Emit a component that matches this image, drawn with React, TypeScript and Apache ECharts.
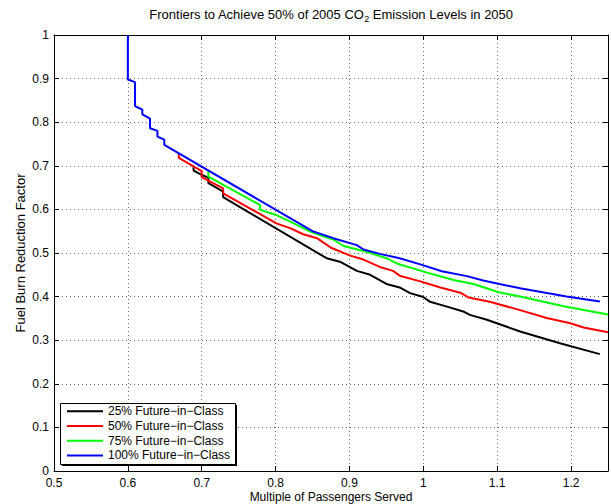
import React, { useEffect, useRef } from "react";
import * as echarts from "echarts";

const titleText = "Frontiers to Achieve 50% of 2005 CO{sub|2} Emission Levels in 2050";
const xAxisName = "Multiple of Passengers Served";
const yAxisName = "Fuel Burn Reduction Factor";

const seriesNames = [
  "25% Future−in−Class",
  "50% Future−in−Class",
  "75% Future−in−Class",
  "100% Future−in−Class",
];
const seriesColors = ["#000000", "#ff0000", "#00ff00", "#0000ff"];

const xMin = 0.5;
const xMax = 1.25;
const xStep = 0.1;
const yMin = 0;
const yMax = 1;
const yStep = 0.1;

const frontier25: [number, number][] = [
  [0.689, 0.699], [0.689, 0.689], [0.7, 0.679], [0.709, 0.673], [0.709, 0.66],
  [0.729, 0.641], [0.729, 0.628], [0.869, 0.488], [0.887, 0.48], [0.91, 0.459],
  [0.928, 0.45], [0.95, 0.429], [0.968, 0.421], [0.982, 0.408], [1.0, 0.399],
  [1.009, 0.388], [1.032, 0.377], [1.054, 0.366], [1.063, 0.358], [1.086, 0.347],
  [1.131, 0.32], [1.185, 0.293], [1.239, 0.268],
];

const frontier50: [number, number][] = [
  [0.669, 0.727], [0.669, 0.718], [0.7, 0.688], [0.7, 0.674], [0.729, 0.648],
  [0.729, 0.637], [0.801, 0.568], [0.8195, 0.557], [0.8375, 0.543], [0.856, 0.534],
  [0.875, 0.512], [0.901, 0.494], [0.919, 0.485], [0.941, 0.468], [0.959, 0.459],
  [0.968, 0.448], [0.996, 0.435], [1.023, 0.421], [1.05, 0.409], [1.061, 0.398],
  [1.09, 0.388], [1.131, 0.369], [1.167, 0.351], [1.199, 0.339], [1.217, 0.329],
  [1.25, 0.318],
];

const frontier75: [number, number][] = [
  [0.709, 0.689], [0.709, 0.675], [0.779, 0.61], [0.779, 0.599], [0.801, 0.587],
  [0.82, 0.572], [0.847, 0.549], [0.86, 0.541], [0.878, 0.531], [0.892, 0.516],
  [0.923, 0.503], [0.95, 0.488], [0.964, 0.476], [1.005, 0.455], [1.041, 0.438],
  [1.068, 0.429], [1.102, 0.41], [1.131, 0.4], [1.19, 0.378], [1.25, 0.359],
];

const frontier100: [number, number][] = [
  [0.6, 1.0], [0.6, 0.898], [0.6097, 0.892], [0.6097, 0.837], [0.6196, 0.829],
  [0.6196, 0.818], [0.63, 0.808], [0.63, 0.786], [0.64, 0.78], [0.64, 0.767],
  [0.6493, 0.76], [0.6493, 0.748], [0.85, 0.55], [0.878, 0.534], [0.91, 0.518],
  [0.919, 0.508], [0.941, 0.498], [0.968, 0.488], [0.996, 0.474], [1.025, 0.458],
  [1.059, 0.447], [1.081, 0.437], [1.131, 0.419], [1.194, 0.4], [1.239, 0.389],
];

const frontiers = [frontier25, frontier50, frontier75, frontier100];

const FONT = "'Liberation Sans', Arial, Helvetica, sans-serif";

export default function App() {
  const ref = useRef<HTMLDivElement>(null);

  useEffect(() => {
    if (!ref.current) return;
    const chart = echarts.init(ref.current, undefined, { renderer: "svg" });

    const gridLine = { show: true, lineStyle: { color: "#666", type: [1, 3] as any, width: 1 } };
    const axisLine = { show: true, onZero: false, lineStyle: { color: "#000", width: 1 } };
    const axisTick = { show: true, inside: true, length: 5, lineStyle: { color: "#000" } };

    chart.setOption({
      animation: false,
      backgroundColor: "#fff",
      textStyle: { fontFamily: FONT },
      grid: {
        left: 54,
        right: 3,
        top: 35,
        bottom: 33,
        containLabel: false,
        outerBoundsMode: "none",
      },
      xAxis: [
        {
          type: "value",
          min: xMin,
          max: xMax,
          interval: xStep,
          position: "bottom",
          axisLine,
          axisTick,
          splitLine: gridLine,
          axisLabel: { color: "#000", fontSize: 12, lineHeight: 12, margin: 6, showMaxLabel: false, fontFamily: FONT },
          name: xAxisName,
          nameLocation: "middle",
          nameGap: 19,
          nameMoveOverlap: false,
          nameTextStyle: { color: "#000", fontSize: 12, lineHeight: 13, fontFamily: FONT },
        },
        {
          type: "value",
          min: xMin,
          max: xMax,
          interval: xStep,
          position: "top",
          axisLine,
          axisTick,
          splitLine: { show: false },
          axisLabel: { show: false },
        },
      ],
      yAxis: [
        {
          type: "value",
          min: yMin,
          max: yMax,
          interval: yStep,
          position: "left",
          axisLine,
          axisTick,
          splitLine: gridLine,
          axisLabel: { color: "#000", fontSize: 12, lineHeight: 12, margin: 5, fontFamily: FONT },
          name: yAxisName,
          nameLocation: "middle",
          nameGap: 27,
          nameMoveOverlap: false,
          nameTextStyle: { color: "#000", fontSize: 13, fontFamily: FONT },
        },
        {
          type: "value",
          min: yMin,
          max: yMax,
          interval: yStep,
          position: "right",
          axisLine,
          axisTick,
          splitLine: { show: false },
          axisLabel: { show: false },
        },
      ],
      legend: {
        show: true,
        orient: "vertical",
        left: 67,
        top: 404,
        padding: 0,
        itemGap: 0,
        itemWidth: 36,
        itemHeight: 2,
        icon: "rect",
        z: 10,
        textStyle: { color: "#000", fontSize: 12, lineHeight: 14.7, fontFamily: FONT },
        data: seriesNames,
      },
      graphic: [
        {
          type: "text",
          x: 331,
          y: 7,
          z: 10,
          style: {
            text: titleText,
            align: "center",
            verticalAlign: "top",
            fill: "#000",
            fontSize: 13,
            fontFamily: FONT,
            lineHeight: 15,
            rich: {
              sub: { fontSize: 9, fontFamily: FONT, lineHeight: 10, padding: [8, 0, 0, 0], fill: "#000" },
            },
          },
        },
        {
          type: "rect",
          z: 4,
          shape: { x: 62, y: 405, width: 175, height: 61 },
          style: { fill: "#000" },
        },
        {
          type: "rect",
          z: 5,
          shape: { x: 60.5, y: 403.5, width: 175, height: 61 },
          style: { fill: "#fff", stroke: "#000", lineWidth: 1 },
        },
      ],
      series: frontiers.map((data, i) => ({
        type: "line",
        name: seriesNames[i],
        data,
        xAxisIndex: 0,
        yAxisIndex: 0,
        showSymbol: false,
        symbol: "none",
        color: seriesColors[i],
        lineStyle: { color: seriesColors[i], width: 2 },
        itemStyle: { color: seriesColors[i] },
        z: 2 + i,
      })),
    });

    return () => chart.dispose();
  }, []);

  return (
    <div
      ref={ref}
      style={{ position: "fixed", left: 0, top: 0, width: 611, height: 504 }}
    />
  );
}
